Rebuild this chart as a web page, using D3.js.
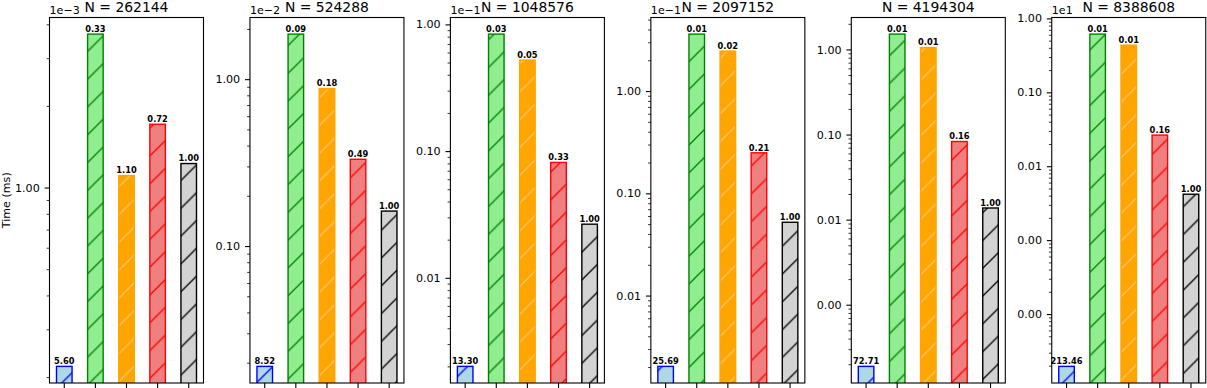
<!DOCTYPE html>
<html><head><meta charset="utf-8">
<script src="https://cdn.jsdelivr.net/npm/d3@7"></script>
<style>
body{margin:0;background:#fff}
svg text{font-family:"DejaVu Sans",sans-serif}
</style>
</head><body>
<svg id="c" width="1207" height="388"></svg>
<script>
// ---- data ----
const sizes = [262144, 524288, 1048576, 2097152, 4194304, 8388608];
const methods = ["method 1", "method 2", "method 3", "method 4", "baseline"];
// times in ms per problem size
const timeM1 = [2.19e-4, 1.90e-4, 2.00e-4, 2.03e-4, 1.885e-4, 1.958e-4];
const timeM2 = [3.68e-3, 1.862e-2, 8.38e-2, 0.3606, 1.514, 6.13];
const timeM3 = [1.107e-3, 8.79e-3, 5.23e-2, 0.246, 1.052, 4.35];
const timeM4 = [1.712e-3, 3.31e-3, 8.14e-3, 2.49e-2, 0.0828, 0.264];
const timeBase = [1.226e-3, 1.62e-3, 2.65e-3, 5.21e-3, 1.37e-2, 4.18e-2];
// speedups vs baseline (bar annotations)
const speedM1 = [5.60, 8.52, 13.30, 25.69, 72.71, 213.46];
const speedM2 = [0.33, 0.09, 0.03, 0.01, 0.01, 0.01];
const speedM3 = [1.10, 0.18, 0.05, 0.02, 0.01, 0.01];
const speedM4 = [0.72, 0.49, 0.33, 0.21, 0.16, 0.16];
const speedBase = [1.00, 1.00, 1.00, 1.00, 1.00, 1.00];
// y-axis offset exponent per panel (null = no offset text)
const offsetExp = [-3, -2, -1, -1, null, 1];
const offsetLabels = ["1e\u22123", "1e\u22122", "1e\u22121", "1e\u22121", "", "1e1"];
const yLabel = "Time (ms)";

const times = [timeM1, timeM2, timeM3, timeM4, timeBase];
const speeds = [speedM1, speedM2, speedM3, speedM4, speedBase];

// ---- styles ----
const fills = ["#ADD8E6", "#90EE90", "#FFA500", "#F08080", "#D3D3D3"];
const edges = ["#0000FF", "#008000", "#FFA500", "#FF0000", "#000000"];
const hatchCols = ["#0000FF", "#008000", "#FFC56A", "#FF0000", "#000000"];

const W = 1207, H = 388;
const axLeft0 = 49.5, axStep = 200.45, axW = 154, axTop = 17.5, axBottom = 383;
const S = 27.8; // hatch spacing

const svg = d3.select("#c");
const defs = svg.append("defs");
methods.forEach((m, i) => {
  const p = defs.append("pattern").attr("id", "hatch" + i)
    .attr("patternUnits", "userSpaceOnUse").attr("width", S).attr("height", S);
  p.append("rect").attr("width", S).attr("height", S).attr("fill", fills[i]);
  p.append("path")
    .attr("d", `M0,${S} L${S},0 M-2,2 L2,-2 M${S-2},${S+2} L${S+2},${S-2}`)
    .attr("stroke", hatchCols[i]).attr("stroke-width", 1.3).attr("fill", "none");
});

sizes.forEach((n, k) => {
  const left = axLeft0 + axStep * k, right = left + axW;
  const vals = times.map(t => t[k]);
  const lo = Math.log10(d3.min(vals)), hi = Math.log10(d3.max(vals));
  const m = (hi - lo) * 0.05;
  const y = d3.scaleLog().domain([10 ** (lo - m), 10 ** (hi + m)]).range([axBottom, axTop]);
  const x = d3.scaleBand().domain(methods).range([left, right]).paddingInner(0.5).paddingOuter(0.225);

  // clip
  defs.append("clipPath").attr("id", "clip" + k).append("rect")
    .attr("x", left).attr("y", axTop).attr("width", axW).attr("height", axBottom - axTop);

  const gBars = svg.append("g").attr("clip-path", `url(#clip${k})`);
  methods.forEach((meth, i) => {
    const v = times[i][k];
    gBars.append("rect")
      .attr("x", x(meth)).attr("y", y(v))
      .attr("width", x.bandwidth()).attr("height", axBottom + 5 - y(v))
      .attr("fill", `url(#hatch${i})`)
      .attr("stroke", edges[i]).attr("stroke-width", 1.4);
  });
  // bar labels
  methods.forEach((meth, i) => {
    const v = times[i][k];
    svg.append("text")
      .attr("x", x(meth) + x.bandwidth() / 2).attr("y", y(v) - 2.2)
      .attr("text-anchor", "middle").attr("font-size", 8.3).attr("font-weight", "bold")
      .attr("fill", "#000")
      .text(speeds[i][k].toFixed(2));
  });

  // y ticks
  const [d0, d1] = y.domain();
  const e0 = Math.floor(Math.log10(d0)), e1 = Math.ceil(Math.log10(d1));
  const majors = [], minors = [];
  for (let e = e0; e <= e1; e++) {
    const v = 10 ** e;
    if (v >= d0 && v <= d1) majors.push(v);
    for (let s = 2; s <= 9; s++) { const mv = s * 10 ** e; if (mv >= d0 && mv <= d1) minors.push(mv); }
  }
  const off = offsetExp[k] === null ? 1 : 10 ** offsetExp[k];
  const yMinor = svg.append("g").attr("transform", `translate(${left},0)`)
    .call(d3.axisLeft(y).tickValues(minors).tickSize(2.8).tickFormat(""));
  yMinor.select(".domain").remove();
  yMinor.selectAll("line").attr("stroke", "#000").attr("stroke-width", 0.8);
  const yMajor = svg.append("g").attr("transform", `translate(${left},0)`)
    .call(d3.axisLeft(y).tickValues(majors).tickSize(4.9).tickPadding(4.9)
      .tickFormat(v => (v / off).toFixed(2)));
  yMajor.select(".domain").remove();
  yMajor.selectAll("line").attr("stroke", "#000").attr("stroke-width", 1.1);
  yMajor.selectAll("text").attr("font-size", 11.1).attr("fill", "#000")
    .attr("font-family", "DejaVu Sans, sans-serif");

  // x ticks
  const xAx = svg.append("g").attr("transform", `translate(0,${axBottom})`)
    .call(d3.axisBottom(x).tickSize(4.9).tickFormat(""));
  xAx.select(".domain").remove();
  xAx.selectAll("line").attr("stroke", "#000").attr("stroke-width", 1.1);

  // frame
  svg.append("rect").attr("x", left).attr("y", axTop).attr("width", axW).attr("height", axBottom - axTop)
    .attr("fill", "none").attr("stroke", "#000").attr("stroke-width", 1.1);

  // offset text
  if (offsetLabels[k]) {
    svg.append("text").attr("x", left).attr("y", axTop - 3.6)
      .attr("font-size", 11.1).attr("fill", "#000").text(offsetLabels[k]);
  }
  // title
  svg.append("text").attr("x", (left + right) / 2).attr("y", 11.5)
    .attr("text-anchor", "middle").attr("font-size", 13.9).attr("fill", "#000")
    .text("N = " + n);

  if (k === 0) {
    svg.append("text").attr("transform", `translate(10,${(axTop + axBottom) / 2}) rotate(-90)`)
      .attr("text-anchor", "middle").attr("font-size", 11.1).attr("fill", "#000").text(yLabel);
  }
});
</script>
</body></html>
